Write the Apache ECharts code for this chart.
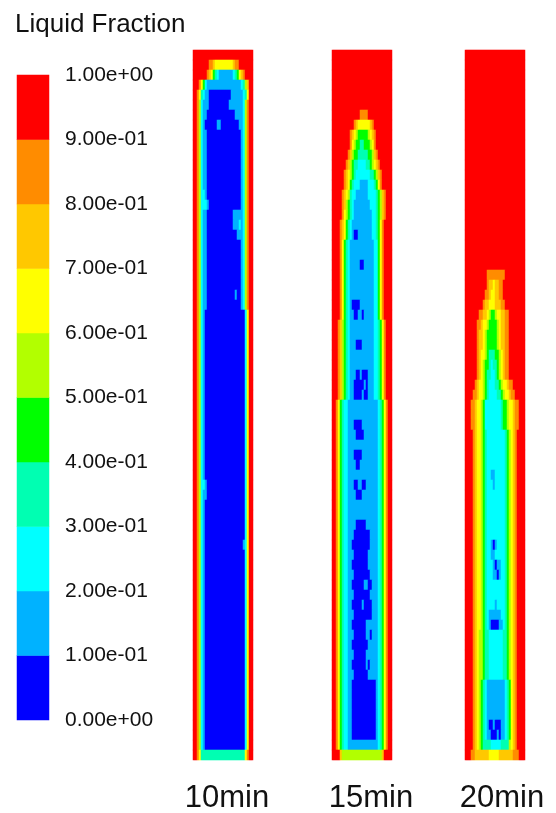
<!DOCTYPE html>
<html>
<head>
<meta charset="utf-8">
<title>Liquid Fraction</title>
<script src="https://cdn.jsdelivr.net/npm/echarts@6/dist/echarts.min.js"></script>
<style>
  html, body { margin: 0; padding: 0; background: #fff; }
  #main { width: 556px; height: 813px; }
</style>
</head>
<body>
<div id="main"></div>
<script>
// band colours, level 0 (0.0-0.1) ... level 9 (0.9-1.0)
var levelColors = ['#0000ff', '#00b2ff', '#00ffff', '#00ffb2', '#00ff00',
                   '#b2ff00', '#ffff00', '#ffc800', '#ff8c00', '#ff0000'];
var levels = [0, 1, 2, 3, 4, 5, 6, 7, 8, 9];
var timeLabels = ['10min', '15min', '20min'];

// contour bands: [row count, row] where a row is 30 cells,
// written as "level" or "level*run", top row first
var panel10min = [
  [1, '9*30'],
  [1, '9*8 8 8 7 6*9 7 8 8 9*7'],
  [1, '9*7 8 7 6 4 3 2 1*7 2 3 4 6 7 8 9*4'],
  [1, '9*3 8 6 4 2 1*17 2 3 5 7 9 9'],
  [1, '9 9 8 6 3 2 1 1 0*11 1*6 2 3 6 9 9'],
  [1, '9 9 8 5 2 1*3 0*10 1*7 2 5 8 9 9'],
  [1, '9 9 8 5 2 1 1 0*14 1*4 2 5 8 9 9'],
  [1, '9 9 8 5 2 1 0*6 1 1 0*9 1 1 2 5 8 9 9'],
  [6, '9 9 8 5 2 1 1 0*17 1 2 5 8 9 9'],
  [1, '9 9 8 5 2 2 1 0*17 1 2 5 8 9 9'],
  [1, '9 9 8 5 2 2 2 1 0*16 1 2 5 8 9 9'],
  [1, '9 9 8 5 2 1 1 0*13 1*4 1 2 5 8 9 9'],
  [1, '9 9 8 5 2 1 1 0*13 1 1 1 2 1 2 5 8 9 9'],
  [1, '9 9 8 5 2 1 1 0*15 1 1 1 2 5 8 9 9'],
  [5, '9 9 8 5 2 1 1 0*17 1 2 5 8 9 9'],
  [1, '9 9 8 5 2 1 1 0*14 1 0 0 1 2 5 8 9 9'],
  [1, '9 9 8 5 2 1 1 0*17 1 2 5 8 9 9'],
  [17, '9 9 8 5 2 1 0*20 2 6 9 9'],
  [1, '9 9 8 5 2 2 1 0*19 2 6 9 9'],
  [1, '9 9 8 5 2 1 1 0*19 2 6 9 9'],
  [4, '9 9 8 5 2 1 0*20 2 6 9 9'],
  [1, '9 9 8 5 2 1 0*19 1 2 6 9 9'],
  [20, '9 9 8 5 2 1 0*20 2 6 9 9'],
  [1, '9 9 8 6 3*22 6 8 9 9']
];

var panel15min = [
  [6, '9*30'],
  [1, '9*14 8*4 9*12'],
  [1, '9*11 8 7 6*6 7 8 9*9'],
  [1, '9*9 8 7 6 5 4*5 5 6 7 8 9*8'],
  [1, '9*9 8 6 5 4 4 3 3 4 4 4 5 6 8 9*8'],
  [1, '9*8 8 7 5 4 4 3*5 4 4 5 7 8 9*7'],
  [1, '9*7 8 7 5 4 3 3 2*4 3 3 4 5 6 7 8 9*6'],
  [1, '9*6 8 7 6 5 4 3 2*7 3 3 4 5 7 8 9*5'],
  [1, '9*6 8 7 6 4 3 2 2 2 1*4 2 2 2 3 4 6 8 9*5'],
  [1, '9*5 8 7 6 5 3 2 2 1*6 2*4 3 4 5 7 8 9*3'],
  [1, '9*5 8 7 5 4 3 2 1*8 2 2 2 3 4 5 7 8 9*3'],
  [1, '9*5 8 6 5 4 3 2 1*9 2 2 3 4 5 7 8 9*3'],
  [1, '9*4 8 7 6 4 3 2 1*10 2 2 3 4 6 8 9*4'],
  [1, '9*4 8 7 6 4 3 2 1 0 0 1*7 2 2 3 4 6 8 9*4'],
  [2, '9*4 8 6 4 3 2 1*12 2 2 4 6 8 9*4'],
  [1, '9*4 8 6 4 3 2 1*5 0 0 1*5 2 2 4 6 8 9*4'],
  [3, '9*4 8 6 4 3 2 1*12 2 2 4 6 8 9*4'],
  [1, '9*4 8 6 4 3 2 1 0*4 1*7 2 2 4 6 8 9*4'],
  [1, '9*4 8 6 4 3 2 1 1 0 0 1 1 0 1*5 2 2 4 6 8 9*4'],
  [2, '9*3 8 7 5 4 3 2 1*12 2 2 3 4 6 8 9*3'],
  [1, '9*3 8 7 5 4 3 2 1*3 0*3 1*6 2 2 3 4 6 8 9*3'],
  [2, '9*3 8 7 5 4 3 2 1*12 2 2 3 4 6 8 9*3'],
  [1, '9*3 8 7 5 4 3 2 1*3 0 0 1 0*3 1*3 2 2 3 4 6 8 9*3'],
  [1, '9*3 8 7 5 4 3 2 1*2 0*5 1 0 1*3 2 2 3 4 6 8 9*3'],
  [1, '9*3 8 7 5 4 3 2 1 1 0*4 1 0 0 1*3 2 2 3 4 6 8 9*3'],
  [2, '9 9 8 6 4 3 2 2 1 1 1*12 1 2 3 4 6 8 9 9'],
  [1, '9 9 8 6 4 3 2 2 1 1 1 0*4 1*7 1 2 3 4 6 8 9 9'],
  [1, '9 9 8 6 4 3 2 2 1 1 1 1 0*4 1*6 1 2 3 4 6 8 9 9'],
  [1, '9 9 8 6 4 3 2 2 1 1 1*12 1 2 3 4 6 8 9 9'],
  [1, '9 9 8 6 4 3 2 2 1 1 1 0*4 1*7 1 2 3 4 6 8 9 9'],
  [1, '9 9 8 6 4 3 2 2 1 1 1 1 0 0 1*8 1 2 3 4 6 8 9 9'],
  [1, '9 9 8 6 4 3 2 2 1 1 1*12 1 2 3 4 6 8 9 9'],
  [1, '9 9 8 6 4 3 2 2 1 1 1 0 0 1 1 0 0 1*5 1 2 3 4 6 8 9 9'],
  [1, '9 9 8 6 4 3 2 2 1 1 1 1 0*3 1*7 1 2 3 4 6 8 9 9'],
  [2, '9 9 8 6 4 3 2 2 1 1 1*12 1 2 3 4 6 8 9 9'],
  [1, '9 9 8 6 4 3 2 2 1 1 1 1 0*5 1*5 1 2 3 4 6 8 9 9'],
  [1, '9 9 8 6 4 3 2 2 1 1 1 0*8 1*3 1 2 3 4 6 8 9 9'],
  [1, '9 9 8 6 4 3 2 2 1 1 0*9 1*3 1 2 3 4 6 8 9 9'],
  [1, '9 9 8 6 4 3 2 2 1 1 1 0*7 1*4 1 2 3 4 6 8 9 9'],
  [1, '9 9 8 6 4 3 2 2 1 1 0*8 1*4 1 2 3 4 6 8 9 9'],
  [1, '9 9 8 6 4 3 2 2 1 1 1 0*8 1*3 1 2 3 4 6 8 9 9'],
  [1, '9 9 8 6 4 3 2 2 1 1 0*6 1 1 0 0 1 1 1 2 3 4 6 8 9 9'],
  [1, '9 9 8 6 4 3 2 2 1 1 1 0*8 1*3 1 2 3 4 6 8 9 9'],
  [1, '9 9 8 6 4 3 2 2 1 1 0*5 1 0*4 1 1 1 2 3 4 6 8 9 9'],
  [1, '9 9 8 6 4 3 2 2 1 1 1 0*9 1 1 1 2 3 4 6 8 9 9'],
  [1, '9 9 8 6 4 3 2 2 1 1 0*7 1*5 1 2 3 4 6 8 9 9'],
  [1, '9 9 8 6 4 3 2 2 1 1 1 0*6 1 1 0 1 1 1 2 3 4 6 8 9 9'],
  [1, '9 9 8 6 4 3 2 2 1 1 0*8 1*4 1 2 3 4 6 8 9 9'],
  [1, '9 9 8 6 4 3 2 2 1 1 1 0*6 1*5 1 2 3 4 6 8 9 9'],
  [1, '9 9 8 6 4 3 2 2 1 1 0*7 1 0 1*3 1 2 3 4 6 8 9 9'],
  [1, '9 9 8 6 4 3 2 2 1 1 1 0*7 1*4 1 2 3 4 6 8 9 9'],
  [6, '9 9 8 6 4 3 2 2 1 1 0*12 1 2 3 4 6 8 9 9'],
  [1, '9 9 8 6 4 3 2 2 1 1 1*12 1 2 3 4 6 8 9 9'],
  [1, '9*4 7 5*20 7 9*4']
];

var panel20min = [
  [22, '9*30'],
  [1, '9*11 8*9 9*10'],
  [1, '9*11 8 7 7 6 7 7 8 8 9*11'],
  [1, '9*10 8 8 7 6 6 7 7 8 8 9*11'],
  [1, '9*9 8 7 7 6 6 6 7 7 7 8 8 9*10'],
  [1, '9*7 8 8 7 7 6 5 4 4 5 6 6 7 7 8 8 9*8'],
  [1, '9*6 8 8 7 6 6 5 4 4 4 4 5 6 7 7 8 8 9*8'],
  [2, '9*6 8 7 7 6 5 4*5 5 6 7 7 8 8 9*8'],
  [1, '9*6 8 7 6 6 5 4 3 3 3 4 4 5 6 7 8 8 9*8'],
  [1, '9*6 8 7 6 5 4 4 3 2 3 3 4 5 6 7 8 8 9*8'],
  [1, '9*6 8 7 6 5 4 3 3 2 2 3 4 5 6 7 8 8 9*8'],
  [1, '9*5 8 7 6 6 5 4 3 2 2 2 3 3 4 5 6 6 7 8 8 9*6'],
  [1, '9*4 8 8 7 6 6 5 4 3 2*4 3 3 4 5 6 6 7 8 8 9*5'],
  [3, '9*3 8 8 7 6 6 5 4 2*8 3 4 4 5 6 6 7 8 8 9*3'],
  [4, '9*4 8 7 6 6 5 4 3 2*9 3 4 5 6 7 8 9*4'],
  [1, '9*4 8 7 6 6 5 4 3 2 2 1 1 2*5 3 4 5 6 7 8 9*4'],
  [1, '9*4 8 7 6 6 5 4 3 2*3 1 2*5 3 4 5 6 7 8 9*4'],
  [5, '9*4 8 7 6 6 5 4 3 2*9 3 4 5 6 7 8 9*4'],
  [1, '9*4 8 7 6 6 5 4 3 2 2 1 0 1 2*4 3 4 5 6 7 8 9*4'],
  [1, '9*4 8 7 6 6 5 4 3 2 2 1 1 2*5 3 4 5 6 7 8 9*4'],
  [1, '9*4 8 7 6 6 5 4 3 2*3 1 0 1 1 2 2 3 4 5 6 7 8 9*4'],
  [1, '9*4 8 7 6 6 5 4 3 2*3 1 1 0 1 2 2 3 4 5 6 7 8 9*4'],
  [2, '9*4 8 7 6 6 5 4 3 2*9 3 4 5 6 7 8 9*4'],
  [1, '9*4 8 7 6 6 5 4 3 2*4 1 2*4 3 4 5 6 7 8 9*4'],
  [1, '9*4 8 7 6 6 5 4 3 2 1*6 2 2 3 4 5 6 7 8 9*4'],
  [1, '9*4 8 7 6 6 5 4 3 2 1 0*4 1 1 2 3 4 5 6 7 8 9*4'],
  [5, '9*4 8 7 6 5 5 4 3 3 2*7 3 3 4 5 6 7 8 9*4'],
  [4, '9*4 8 7 6 5 4 3 2 1*9 2 3 4 6 7 8 9*4'],
  [1, '9*4 8 7 6 5 4 3 2 1 0 0 1 0 0 0 1 1 2 3 4 6 7 8 9*4'],
  [1, '9*4 8 7 6 5 4 3 2 1 1 0 0 0 1 0 1 1 2 3 4 6 7 8 9*4'],
  [1, '9*4 8 7 6 5 4 3*4 2*5 3*4 5 6 7 8 9*4'],
  [1, '9*3 8 8 7*7 6*5 7*7 8 8 8 9*3']
];

var panels = [panel10min, panel15min, panel20min];
var panelLeft = [193, 332, 465];
var labelCenter = [227, 371, 502];
var panelTop = 50, panelW = 60, panelH = 710, nCols = 30;
var font = '"Liberation Sans", Arial, Helvetica, sans-serif';

function decodeRow(rle) {
  var out = [];
  rle.split(' ').forEach(function (tok) {
    var p = tok.split('*');
    var n = p.length > 1 ? parseInt(p[1], 10) : 1;
    for (var k = 0; k < n; k++) out.push(+p[0]);
  });
  return out;
}

function buildCells(panel) {
  var cells = [], r = 0;
  panel.forEach(function (item) {
    var row = decodeRow(item[1]);
    for (var k = 0; k < item[0]; k++) {
      row.forEach(function (v, c) { cells.push([c, r, v]); });
      r++;
    }
  });
  return { cells: cells, rows: r };
}

// e.g. 0.3 -> "3.00e-01"
function sciLabel(v) {
  var parts = v.toExponential(2).split('e');
  var e = parseInt(parts[1], 10);
  return parts[0] + 'e' + (e < 0 ? '-' : '+') + (Math.abs(e) < 10 ? '0' : '') + Math.abs(e);
}

var myChart = echarts.init(document.getElementById('main'));

var grids = [{ left: 17, top: 75, width: 32, height: 645 }];
var xAxes = [{ type: 'category', gridIndex: 0, data: ['bar'], show: false }];
var yAxes = [
  { type: 'category', gridIndex: 0, data: levels, show: false },
  {
    type: 'value', gridIndex: 0, position: 'right',
    min: 0, max: 1, interval: 0.1,
    axisLine: { show: false }, axisTick: { show: false }, splitLine: { show: false },
    axisLabel: {
      margin: 16, fontSize: 21, color: '#111', fontFamily: font,
      formatter: function (v) { return sciLabel(v); }
    }
  }
];
var series = [{
  type: 'heatmap', xAxisIndex: 0, yAxisIndex: 0,
  data: levels.map(function (l) { return [0, l, l]; }),
  itemStyle: { borderWidth: 0 },
  emphasis: { disabled: true }
}];
var titles = [{
  text: 'Liquid Fraction', left: 15, top: 12, padding: 0,
  textStyle: { fontSize: 26, fontWeight: 'normal', color: '#111', fontFamily: font }
}];

panels.forEach(function (panel, i) {
  var built = buildCells(panel);
  var rowNames = [], colNames = [];
  for (var r = 0; r < built.rows; r++) rowNames.push(r);
  for (var c = 0; c < nCols; c++) colNames.push(c);
  grids.push({ left: panelLeft[i], top: panelTop, width: panelW, height: panelH });
  xAxes.push({ type: 'category', gridIndex: i + 1, data: colNames, show: false });
  yAxes.push({ type: 'category', gridIndex: i + 1, data: rowNames, inverse: true, show: false });
  series.push({
    type: 'heatmap', xAxisIndex: i + 1, yAxisIndex: i + 2,
    data: built.cells,
    itemStyle: { borderWidth: 0 },
    emphasis: { disabled: true }
  });
  titles.push({
    text: timeLabels[i], left: labelCenter[i], top: 783, padding: 0, textAlign: 'center',
    textStyle: { fontSize: 31, fontWeight: 'normal', color: '#111', fontFamily: font }
  });
});

var option = {
  backgroundColor: '#fff',
  animation: false,
  title: titles,
  grid: grids,
  xAxis: xAxes,
  yAxis: yAxes,
  visualMap: {
    type: 'piecewise', show: false, dimension: 2,
    seriesIndex: [0, 1, 2, 3],
    pieces: levels.map(function (l) { return { value: l, color: levelColors[l] }; })
  },
  series: series
};
myChart.setOption(option);
</script>
</body>
</html>
